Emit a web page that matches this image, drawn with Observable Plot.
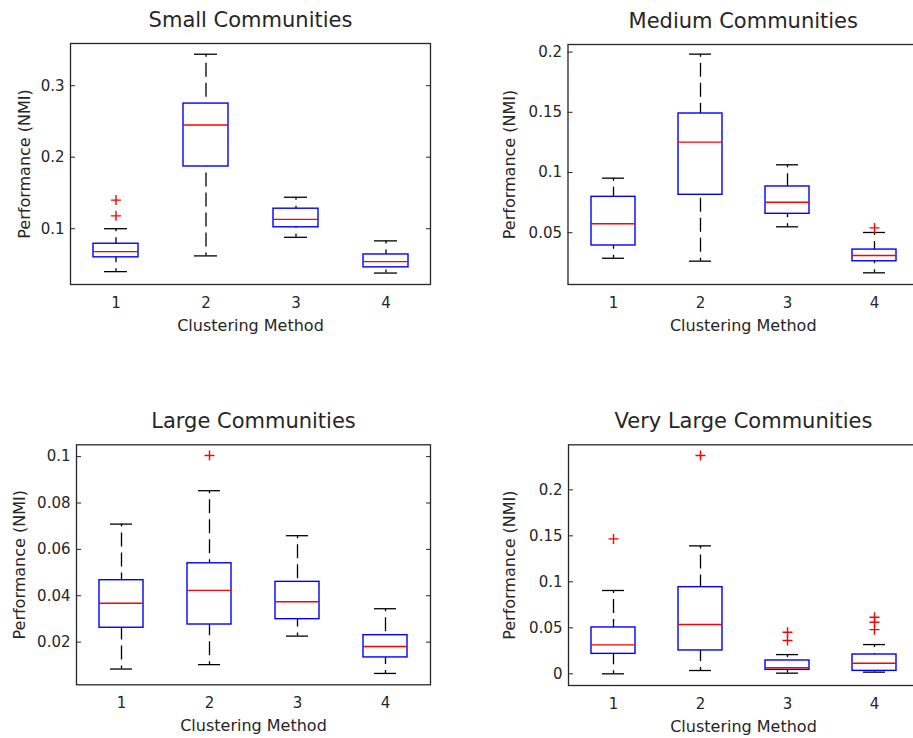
<!DOCTYPE html>
<html>
<head>
<meta charset="utf-8">
<script src="https://cdn.jsdelivr.net/npm/d3@7"></script>
<script src="https://cdn.jsdelivr.net/npm/@observablehq/plot@0.6"></script>
<style>
  html, body { margin: 0; padding: 0; background: #fff; overflow: hidden; }
  #figure { position: relative; width: 913px; height: 738px; overflow: hidden; background: #fff; }
  #figure > svg { position: absolute; }
</style>
</head>
<body>
<div id="figure"></div>
<script>
// Clustering methods on the x axis and shared axis titles
const methods = [1, 2, 3, 4];
const xLabel = "Clustering Method";
const yLabel = "Performance (NMI)";

// Small communities
const smallTitle = "Small Communities";
const smallLow = [0.040, 0.062, 0.088, 0.038];
const smallQ1 = [0.060, 0.187, 0.102, 0.046];
const smallMedian = [0.068, 0.245, 0.113, 0.054];
const smallQ3 = [0.079, 0.275, 0.128, 0.064];
const smallHigh = [0.100, 0.344, 0.144, 0.083];
const smallOutlierMethod = [1, 1];
const smallOutlierValue = [0.140, 0.118];
const smallTicks = [0.1, 0.2, 0.3];
const smallDomain = [0.022, 0.359];

// Medium communities
const mediumTitle = "Medium Communities";
const mediumLow = [0.0288, 0.0264, 0.0549, 0.0167];
const mediumQ1 = [0.0394, 0.0815, 0.0657, 0.0263];
const mediumMedian = [0.0574, 0.1252, 0.0753, 0.0311];
const mediumQ3 = [0.0798, 0.149, 0.0884, 0.036];
const mediumHigh = [0.0953, 0.1983, 0.1064, 0.0502];
const mediumOutlierMethod = [4];
const mediumOutlierValue = [0.054];
const mediumTicks = [0.05, 0.1, 0.15, 0.2];
const mediumDomain = [0.007, 0.2063];

// Large communities
const largeTitle = "Large Communities";
const largeLow = [0.0084, 0.0103, 0.0226, 0.0065];
const largeQ1 = [0.0262, 0.0276, 0.0299, 0.0134];
const largeMedian = [0.0368, 0.0423, 0.0374, 0.0181];
const largeQ3 = [0.0467, 0.054, 0.046, 0.023];
const largeHigh = [0.0709, 0.0853, 0.0659, 0.0344];
const largeOutlierMethod = [2];
const largeOutlierValue = [0.1005];
const largeTicks = [0.02, 0.04, 0.06, 0.08, 0.1];
const largeDomain = [0.0016, 0.1051];

// Very large communities
const veryLargeTitle = "Very Large Communities";
const veryLargeLow = [0, 0.0036, 0.0007, 0.0018];
const veryLargeQ1 = [0.0217, 0.0254, 0.0043, 0.0032];
const veryLargeMedian = [0.0315, 0.0536, 0.0066, 0.0115];
const veryLargeQ3 = [0.0504, 0.0942, 0.0145, 0.021];
const veryLargeHigh = [0.0906, 0.1391, 0.0209, 0.0318];
const veryLargeOutlierMethod = [1, 2, 3, 3, 4, 4, 4];
const veryLargeOutlierValue = [0.1467, 0.2373, 0.0452, 0.0362, 0.0615, 0.056, 0.048];
const veryLargeTicks = [0, 0.05, 0.1, 0.15, 0.2];
const veryLargeDomain = [-0.0127, 0.249];

// Outlier marker: a stroked "+"
const plusSymbol = {
  draw(context, size) {
    const r = Math.sqrt(size / Math.PI);
    context.moveTo(-r, 0); context.lineTo(r, 0);
    context.moveTo(0, -r); context.lineTo(0, r);
  }
};

const ink = "#262626";

function boxPanel(s, layout) {
  const stats = methods.map((m, i) => ({
    method: m, low: s.low[i], q1: s.q1[i], median: s.median[i], q3: s.q3[i], high: s.high[i]
  }));
  const outliers = s.outlierMethod.map((m, i) => ({method: m, value: s.outlierValue[i]}));
  const whisker = {x: "method", stroke: "#000", strokeWidth: 1.3, strokeDasharray: "14,6", strokeDashoffset: 11};
  const cap = {x: "method", stroke: "#000", strokeWidth: 1.3, insetLeft: 11, insetRight: 11};

  const svg = Plot.plot({
    width: layout.width,
    height: layout.height,
    marginLeft: layout.marginLeft,
    marginRight: layout.marginRight,
    marginTop: layout.marginTop,
    marginBottom: layout.marginBottom,
    style: {fontFamily: "DejaVu Sans", color: ink, background: "transparent"},
    x: {type: "band", domain: methods, paddingInner: 0.5, paddingOuter: 0.25, label: null},
    y: {domain: s.domain, label: null},
    marks: [
      Plot.ruleX(stats, {...whisker, y1: "high", y2: "q3"}),
      Plot.ruleX(stats, {...whisker, y1: "low", y2: "q1"}),
      Plot.barY(stats, {x: "method", y1: "q1", y2: "q3", fill: "none", stroke: "#0000ff", strokeWidth: 1.4}),
      Plot.tickY(stats, {...cap, y: "high"}),
      Plot.tickY(stats, {...cap, y: "low"}),
      Plot.tickY(stats, {x: "method", y: "median", stroke: "#ff0000", strokeWidth: 1.4}),
      Plot.dot(outliers, {x: "method", y: "value", symbol: plusSymbol, r: 5, fill: "none", stroke: "#ff0000", strokeWidth: 1.4}),
      Plot.frame({stroke: ink, strokeWidth: 1.3}),
      Plot.axisX({tickSize: 0, tickPadding: 13, fontSize: 15, label: null}),
      Plot.axisY({ticks: s.ticks, tickSize: 0, tickPadding: 6, fontSize: 15, label: null, tickFormat: d => String(d)}),
      Plot.axisY({ticks: s.ticks, anchor: "left", tickSize: -5, fill: "none", stroke: ink, label: null}),
      Plot.axisY({ticks: s.ticks, anchor: "right", tickSize: -5, fill: "none", stroke: ink, label: null}),
      Plot.text([s.title], {frameAnchor: "top", lineAnchor: "bottom", dy: -17, fontSize: 21}),
      Plot.text([xLabel], {frameAnchor: "bottom", lineAnchor: "bottom", dy: 46, fontSize: 16}),
      Plot.text([yLabel], {frameAnchor: "left", rotate: -90, textAnchor: "middle", lineAnchor: "bottom", dx: layout.yLabelDx, fontSize: 16})
    ]
  });
  svg.style.left = layout.left + "px";
  svg.style.top = layout.top + "px";
  return svg;
}

const figure = document.getElementById("figure");

figure.append(boxPanel(
  {title: smallTitle, low: smallLow, q1: smallQ1, median: smallMedian, q3: smallQ3, high: smallHigh,
   outlierMethod: smallOutlierMethod, outlierValue: smallOutlierValue, ticks: smallTicks, domain: smallDomain},
  {left: 0, top: 0, width: 460, height: 350, marginLeft: 70, marginRight: 30, marginTop: 43, marginBottom: 66, yLabelDx: -41}
));

figure.append(boxPanel(
  {title: mediumTitle, low: mediumLow, q1: mediumQ1, median: mediumMedian, q3: mediumQ3, high: mediumHigh,
   outlierMethod: mediumOutlierMethod, outlierValue: mediumOutlierValue, ticks: mediumTicks, domain: mediumDomain},
  {left: 455, top: 0, width: 470, height: 350, marginLeft: 112.5, marginRight: 7, marginTop: 44, marginBottom: 66, yLabelDx: -53}
));

figure.append(boxPanel(
  {title: largeTitle, low: largeLow, q1: largeQ1, median: largeMedian, q3: largeQ3, high: largeHigh,
   outlierMethod: largeOutlierMethod, outlierValue: largeOutlierValue, ticks: largeTicks, domain: largeDomain},
  {left: 0, top: 400, width: 460, height: 338, marginLeft: 76, marginRight: 30, marginTop: 44.3, marginBottom: 53.7, yLabelDx: -52}
));

figure.append(boxPanel(
  {title: veryLargeTitle, low: veryLargeLow, q1: veryLargeQ1, median: veryLargeMedian, q3: veryLargeQ3, high: veryLargeHigh,
   outlierMethod: veryLargeOutlierMethod, outlierValue: veryLargeOutlierValue, ticks: veryLargeTicks, domain: veryLargeDomain},
  {left: 455, top: 400, width: 470, height: 338, marginLeft: 113, marginRight: 7, marginTop: 44.3, marginBottom: 53, yLabelDx: -54}
));
</script>
</body>
</html>
